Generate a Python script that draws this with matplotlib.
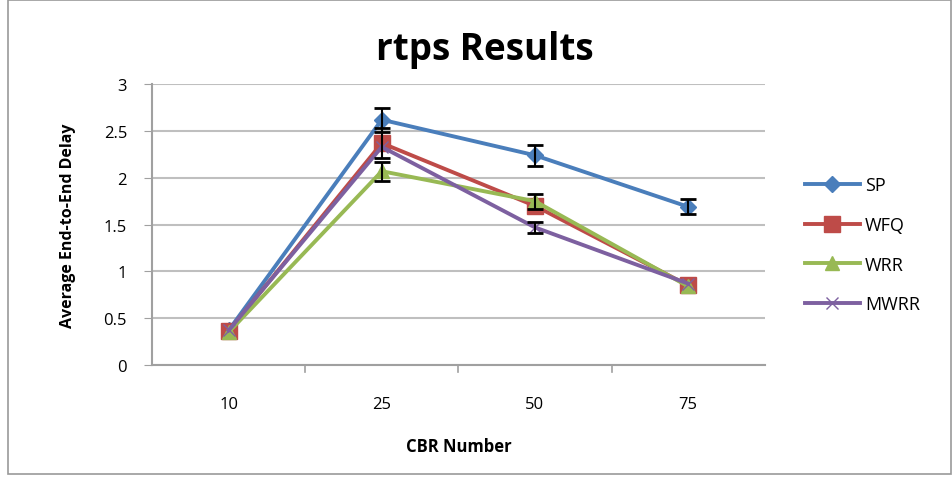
import matplotlib
matplotlib.use("Agg")
import matplotlib.pyplot as plt
from matplotlib.patches import Rectangle

categories = ["10", "25", "50", "75"]
sp = [0.37, 2.62, 2.24, 1.69]
sp_err = [0.0, 0.13, 0.11, 0.08]
wfq = [0.36, 2.37, 1.70, 0.85]
wfq_err = [0.0, 0.16, 0.0, 0.0]
wrr = [0.35, 2.07, 1.75, 0.84]
wrr_err = [0.0, 0.10, 0.08, 0.0]
mwrr = [0.37, 2.33, 1.47, 0.87]
mwrr_err = [0.0, 0.0, 0.06, 0.0]
yticks = [0, 0.5, 1, 1.5, 2, 2.5, 3]
ytick_labels = ["0", "0.5", "1", "1.5", "2", "2.5", "3"]

plt.rcParams['font.family'] = ['Open Sans', 'DejaVu Sans']

fig = plt.figure(figsize=(9.53, 4.81), dpi=100)
ax = fig.add_axes([0.1595, 0.239, 0.643, 0.584])

x = list(range(len(categories)))
series = [
    ("SP", sp, sp_err, "#4A7EBB", "D", 8),
    ("WFQ", wfq, wfq_err, "#BE4B48", "s", 11),
    ("WRR", wrr, wrr_err, "#98B954", "^", 10),
    ("MWRR", mwrr, mwrr_err, "#7D60A0", "x", 9),
]
handles = []
for name, vals, err, col, mk, ms in series:
    idx = [i for i in x if err[i] > 0]
    if idx:
        ax.errorbar([x[i] for i in idx], [vals[i] for i in idx],
                    yerr=[err[i] for i in idx], fmt='none', ecolor='black',
                    elinewidth=1.5, capsize=6, capthick=2, zorder=4)
    h, = ax.plot(x, vals, color=col, lw=2.8, marker=mk, markersize=ms,
                 markerfacecolor=col, markeredgecolor=col, zorder=3, label=name)
    handles.append(h)

ax.set_xlim(-0.5, 3.5)
ax.set_ylim(0, 3)
ax.set_yticks(yticks)
ax.set_yticklabels(ytick_labels, fontsize=12)
ax.set_xticks(x)
ax.set_xticklabels(categories, fontsize=12)
ax.tick_params(axis='x', length=0, pad=22)
ax.tick_params(axis='y', length=6, color='#A0A0A0', pad=12)
for b in [0.5, 1.5, 2.5]:
    ax.axvline(b, ymin=-0.025, ymax=0, color='#A0A0A0', lw=1.2, clip_on=False)
ax.grid(axis='y', color='#BFBFBF', lw=1.5)
ax.set_axisbelow(True)
for s in ['top', 'right']:
    ax.spines[s].set_visible(False)
ax.spines['left'].set_color('#A0A0A0')
ax.spines['bottom'].set_color('#A0A0A0')
ax.spines['left'].set_linewidth(1.5)
ax.spines['bottom'].set_linewidth(1.5)

ax.set_xlabel("CBR Number", fontsize=12, fontweight='bold', labelpad=18)
ax.set_ylabel("Average End-to-End Delay", fontsize=11.5, fontweight='bold', labelpad=20)
fig.text(0.509, 0.897, "rtps Results", ha='center', va='center', fontsize=26.5, fontweight='bold')

leg = fig.legend(handles=handles, loc='upper left', bbox_to_anchor=(0.828, 0.665),
                 frameon=False, fontsize=13, handlelength=3.0, labelspacing=1.2,
                 handletextpad=0.3)

fig.patches.append(Rectangle((0.008, 0.012), 0.99, 0.985, transform=fig.transFigure,
                             fill=False, edgecolor='#999999', lw=1.2))

fig.savefig("out.png", dpi=100)
